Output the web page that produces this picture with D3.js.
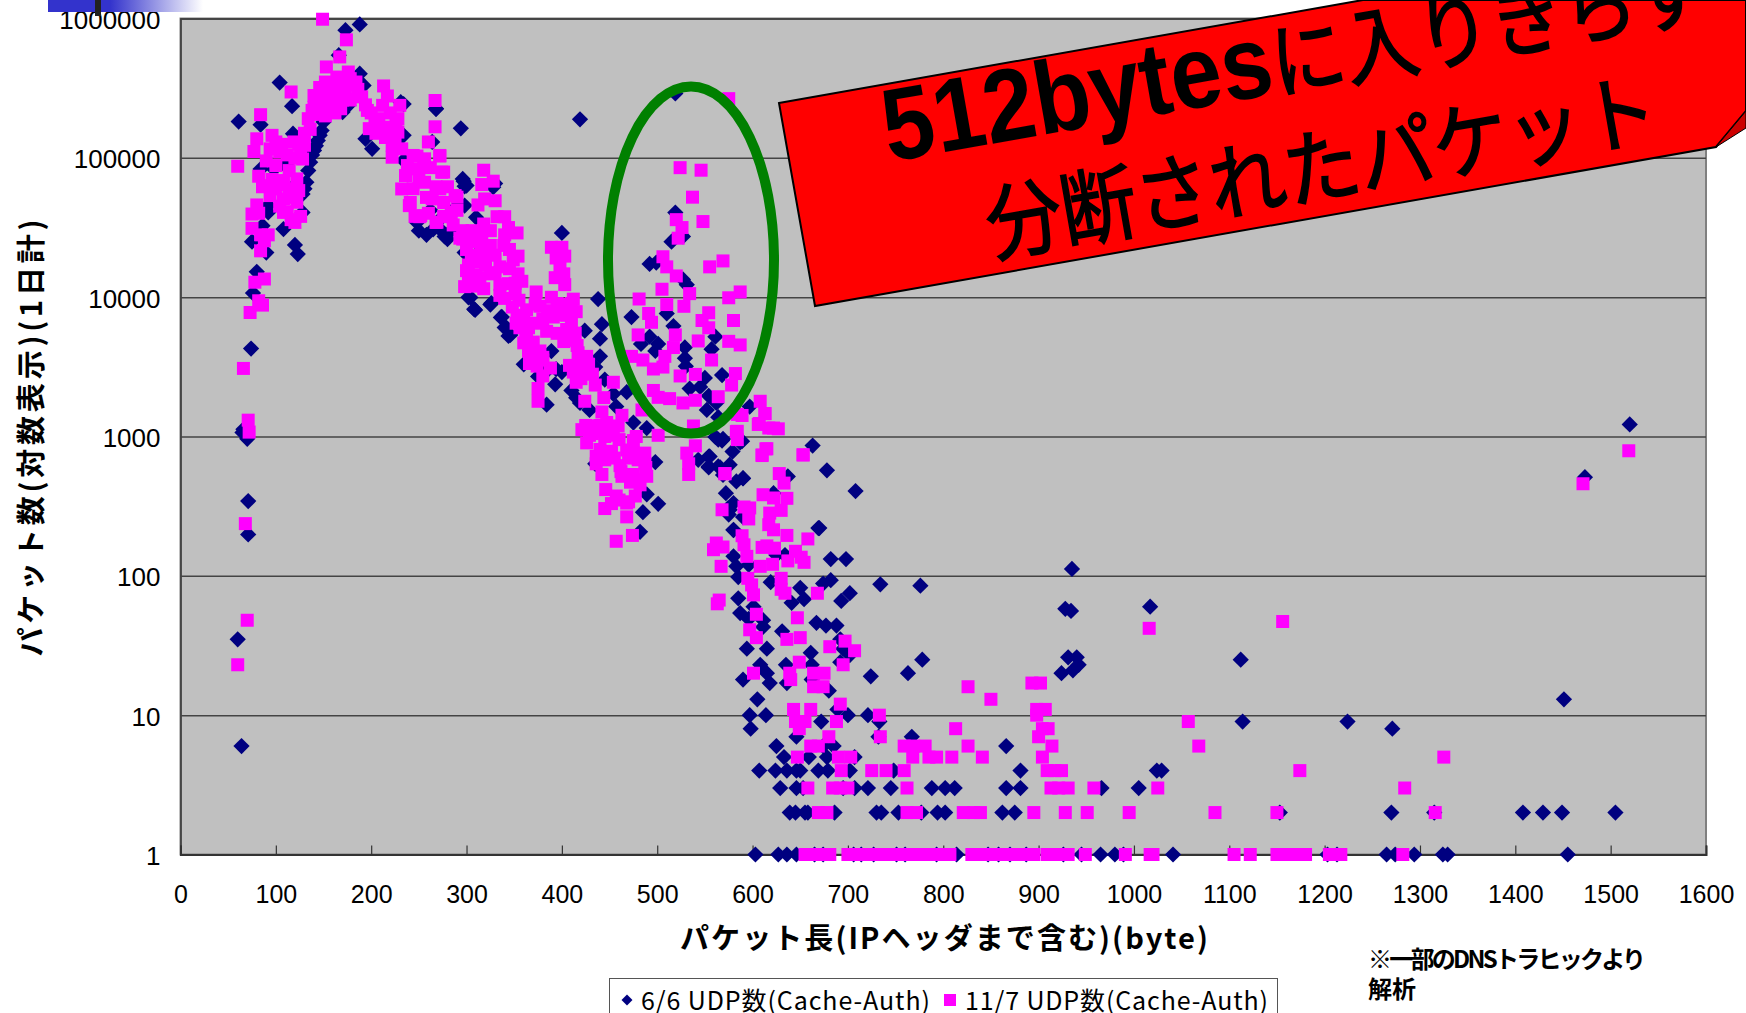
<!DOCTYPE html>
<html>
<head>
<meta charset="utf-8">
<script src="https://cdn.jsdelivr.net/npm/d3@7"></script>
<style>
html, body { margin: 0; padding: 0; background: #fff; overflow: hidden; }
text { font-family: "Liberation Sans", "Noto Sans CJK JP", sans-serif; fill: #000; }
.jp { font-family: "Noto Sans CJK JP", "Liberation Sans", sans-serif; }
</style>
</head>
<body>
<script>
var xTicks = [0, 100, 200, 300, 400, 500, 600, 700, 800, 900, 1000, 1100, 1200, 1300, 1400, 1500, 1600];
var yTicks = [1, 10, 100, 1000, 10000, 100000, 1000000];
var seriesNames = ["6/6 UDP数(Cache-Auth)", "11/7 UDP数(Cache-Auth)"];

// [packet length, packets per day]
var udp0606 = [
  [61,182000],[104,347000],[117,235000],[84,173000],[118,149000],[173,824000],[188,906000],[166,545000],[188,402000],[192,331000],
  [231,251000],[268,225000],[294,163000],[419,189000],[170,213000],[176,238000],[150,181000],[148,157000],[144,133000],[140,113000],
  [136,93000],[134,81000],[132,66800],[116,98000],[84,83000],[98,83000],[110,88000],[201,116000],[194,137000],[234,145000],
  [234,95800],[264,130000],[92,40600],[92,45400],[116,59800],[86,32600],[108,30800],[128,40600],[75,25000],[90,20900],
  [120,23700],[123,20400],[80,15200],[76,10700],[74,4280],[66,1125],[70,963],[296,70600],[300,63200],[328,61500],
  [272,30800],[248,34400],[310,37400],[298,45400],[280,26100],[298,20900],[304,9960],[308,8200],[326,9060],[336,7150],
  [340,6050],[344,5270],[65,1070],[71,344],[71,198],[60,35],[64,6],
  [128,55000],[130,60000],[138,105000],[142,122000],[146,145000],[152,200000],[300,28000],[306,26000],[312,24000],[290,45000],
  [262,42000],[270,35000],[284,30000],[250,30000],[258,28000],[360,3300],[375,2700],[385,3000],[400,2900],[415,1900],
  [268,225000],[234,243000],[232,143000],[297,68000],[330,65500],[298,62400],[400,28900],[519,290000],[519,40500],[527,27300],
  [515,25000],[492,17300],[499,17700],[527,13400],[531,12300],[438,9700],[510,7640],[473,7200],[442,6400],[424,5750],
  [440,5040],[492,5200],[517,6200],[561,5200],[483,4620],[501,4620],[529,4360],[557,4230],[498,4110],[529,3650],
  [440,3760],[435,3150],[530,3190],[568,2760],[550,2630],[394,3050],[389,4100],[393,2370],[410,2140],[445,2560],
  [454,2020],[468,2080],[534,2210],[545,2270],[554,1960],[419,1740],[429,1550],[457,1640],[552,1550],[562,1740],
  [597,1640],[564,1375],[475,1260],[489,1150],[561,993],[568,935],[587,907],[554,718],[554,600],[566,600],
  [590,502],[435,637],[498,656],[489,385],[501,329],[485,286],[482,207],[384,1690],[580,333],[574,304],
  [580,213],[669,220],[309,8100],[302,9980],[325,8850],[337,7210],[346,5360],[342,6030],[265,30700],[277,27300],
  [564,950],[569,960],[579,780],[589,925],[663,861],[678,572],[708,406],[555,720],[543,680],[554,610],
  [564,610],[576,628],[569,530],[583,476],[590,500],[637,517],[572,392],[622,392],[576,298],[575,275],
  [590,264],[580,214],[670,220],[580,138],[583,117],[596,120],[625,141],[634,141],[682,132],[698,132],
  [585,98],[619,90],[682,93],[674,88],[734,87],[776,85],[650,82],[702,75],[693,66],[585,69],
  [654,68],[641,64],[587,54],[601,60],[596,49],[611,48],[611,43],[631,40],[667,46],[677,44],
  [688,44],[692,35],[695,30],[702,27],[594,30],[615,30],[661,28],[635,23],[662,23],[692,24],
  [778,25],[763,20],[724,19],[608,23],[615,20],[590,18],[618,17],[636,17],[662,18],[680,15],
  [605,13],[597,10],[614,10],[598,8],[672,9],[700,10],[689,11],[721,10],[733,9],[646,7],
  [625,6],[674,6],[685,6],[732,7],[767,7],[633,5],[659,5],[678,5],[707,5],[866,6],
  [935,112],[928,58],[934,56],[1017,60],[931,26],[940,26],[942,23],[924,20],[936,21],
  [607,4],[624,4],[636,4],[646,4],[650,4],[669,4],[679,4],[702,4],[748,4],[881,4],[1024,4],[1029,4],
  [629,3],[646,3],[653,3],[695,3],[707,3],[721,3],[745,3],[788,3],[802,3],[812,3],[866,3],[881,3],[966,3],[1005,3],
  [639,2],[645,2],[655,2],[658,2],[686,2],[730,2],[735,2],[753,2],[777,2],[794,2],[802,2],[862,2],[875,2],
  [1153,2],[1270,2],[1315,2],[1408,2],[1429,2],[1449,2],[1505,2],
  [603,1],[627,1],[636,1],[646,1],[665,1],[674,1],[706,1],[714,1],[727,1],[751,1],[760,1],[793,1],[814,1],[847,1],[858,1],
  [870,1],[887,1],[926,1],[945,1],[965,1],[980,1],[989,1],[1041,1],[1203,1],[1213,1],[1265,1],[1274,1],[1294,1],[1324,1],[1329,1],[1455,1],
  [1112,25],[1114,9],[1224,9],[1271,8],[1451,13],[1473,510],[1520,1220]
];

var udp1107 = [
  [149,988000],[174,703000],[167,530000],[153,449000],[176,413000],[164,380000],[152,350000],[180,331000],[164,313000],[150,297000],
  [190,274000],[142,259000],[162,252000],[174,266000],[156,219000],[138,219000],[134,191000],[116,297000],[84,204000],[80,137000],
  [77,111000],[60,87000],[96,145000],[94,116000],[104,110000],[119,130000],[130,123000],[128,98000],[114,81000],[82,73800],
  [122,70600],[90,63200],[108,68700],[100,59800],[124,58200],[94,53600],[108,50700],[122,48000],[80,45900],[75,39500],
  [108,40600],[120,34400],[75,31200],[88,25400],[84,21500],[88,13500],[78,12800],[82,9420],[86,8770],[73,7760],
  [66,3080],[71,1310],[72,1075],[68,237],[70,48],[60,23],
  [140,230000],[146,260000],[150,240000],[144,205000],[158,330000],[160,290000],[168,340000],[172,300000],[178,370000],[184,350000],
  [186,310000],[170,260000],[156,270000],[146,320000],[140,280000],[152,200000],[162,210000],[168,225000],[178,260000],[194,240000],
  [200,210000],[204,185000],[210,160000],[220,210000],[226,175000],[215,140000],[205,150000],[225,140000],[130,150000],[124,125000],
  [136,160000],[126,105000],[112,105000],[106,125000],[100,130000],[120,100000],[90,95000],[100,88000],[86,62000],[96,70000],
  [104,64000],[114,60000],[118,52000],[104,45000],[112,41000],[126,38000],[116,36000],[82,40000],[84,28000],[92,28000],
  [238,88000],[250,72000],[262,85000],[268,62000],[244,60000],[258,52000],[280,62000],[290,42000],[246,38000],[260,40000],
  [276,38000],[286,33000],[296,30000],[300,22000],[308,25000],[306,30000],
  [305,20000],[315,22000],[330,20000],[345,22000],[340,28000],[325,30000],[312,28000],[320,17000],[330,15000],[345,16000],
  [310,14500],[300,15500],[308,12000],[318,11500],[344,12500],[340,9800],[355,9500],[348,8500],[360,7200],[352,6500],
  [372,6500],[385,8000],[395,9000],[410,9000],[372,8900],[362,5500],[370,3800],[374,3200],[388,3100],[360,4700],
  [395,5500],[398,7500],[410,6500],[402,4800],[416,4500],[428,3300],[412,2900],[420,2600],[432,2800],[380,3700],
  [425,1200],[438,1080],[450,1100],[445,1000],[460,950],[432,1050],[470,700],[480,680],[455,700],[445,680],
  [462,560],[472,470],[480,490],[452,330],[460,350],[470,340],[482,450],[488,600],[468,800],[478,1000],
  [440,1200],[426,900],[436,720],
  [213,328000],[217,278000],[196,219000],[212,238000],[230,238000],[208,191000],[228,191000],[198,162000],[216,166000],[228,153000],
  [222,123000],[232,116000],[222,101000],[244,104000],[256,98400],[272,104000],[236,74600],[248,83400],[274,78900],[232,59800],
  [256,66800],[272,59800],[240,45400],[252,38500],[268,34400],[284,40600],[264,50700],[288,53600],[296,26100],
  [267,258000],[267,167000],[260,130000],[248,103000],[272,103000],[255,86500],[276,79000],[318,81500],[328,68000],[316,64300],
  [319,50700],[330,49200],[312,45900],[290,52200],[276,47800],[241,47800],[251,37800],[269,34500],[283,37800],[332,37800],
  [340,37800],[318,33500],[344,31600],[353,28900],[293,26500],[316,26500],[325,23500],[339,23500],[302,17000],[311,18000],
  [321,20900],[335,16500],[349,18500],[354,19700],[354,14700],[302,12600],[298,11900],[314,13800],[325,14700],[335,12300],
  [351,12600],[358,13000],[335,10300],[351,10600],[373,10900],[389,22800],[400,22800],[394,19100],[403,19700],[398,16500],
  [393,13800],[402,14700],[403,12300],[389,9980],[412,9680],[363,8110],[377,8610],[398,8870],[415,7870],[353,7410],
  [380,6980],[391,7200],[405,7410],[356,6030],[365,6030],[384,5690],[405,5860],[414,5520],[363,5050],[370,4760],
  [408,4900],[365,4110],[377,4110],[417,3990],[426,3760],[366,3340],[380,3540],[408,3240],[419,3340],[422,2880],
  [380,2720],[375,2210],[375,1790],[415,2450],[435,2340],[454,2450],[444,1900],[424,1790],[442,1500],[463,1420],
  [484,1550],[421,1120],[433,1190],[447,1260],[459,1190],[429,1020],[454,1020],[475,935],[501,1020],[440,807],
  [452,783],[475,760],[487,760],[436,637],[461,618],[487,637],[442,534],[463,518],[475,534],[489,518],
  [446,416],[457,374],[477,374],[445,304],[468,333],[468,265],[457,177],[474,195],
  [524,85000],[546,81500],[537,52200],[548,34900],[575,266000],[520,36000],[526,31600],[522,26500],[506,19500],[569,18200],
  [555,16500],[510,16500],[520,14200],[505,11400],[534,10600],[587,10900],[575,9900],[481,9700],[510,8850],[528,8600],
  [491,7640],[554,7730],[580,6800],[547,6800],[494,6600],[554,6030],[480,5360],[519,5360],[543,4850],[575,4820],
  [587,4540],[517,4350],[508,3760],[473,3760],[485,3540],[557,3540],[496,3050],[506,3150],[582,2830],[524,2720],
  [540,2790],[578,2340],[496,2140],[501,1910],[513,1870],[527,1740],[540,1820],[564,1930],[589,1415],[608,1790],
  [613,1460],[538,1190],[606,1220],[622,1150],[583,1085],[540,857],[615,817],[610,738],[653,738],[531,760],
  [533,637],[533,534],[571,540],
  [584,1440],[613,1460],[607,1240],[617,1150],[627,1135],[584,1090],[584,950],[614,815],[610,730],[653,738],
  [571,542],[628,542],[633,463],[611,382],[622,362],[636,360],[568,298],[591,312],[597,307],[596,256],
  [618,282],[630,295],[617,233],[622,214],[636,195],[658,184],[589,194],[591,167],[562,172],[569,161],
  [559,154],[610,160],[615,164],[623,158],[645,150],[594,138],[651,136],[637,128],[654,125],[567,117],
  [608,117],[621,121],[595,96],[630,96],[599,86],[630,80],[601,73],[634,75],[668,75],[565,67],
  [563,63],[604,53],[647,50],[597,41],[604,36],[636,35],[650,36],[681,31],[697,34],[707,29],
  [695,23],[649,24],[601,20],[639,20],[640,18],[664,20],[675,20],[664,16],[674,16],[692,12],
  [643,11],[661,11],[733,10],[645,9],[655,9],[688,9],[649,8],[680,7],[734,7],[661,6],
  [669,6],[759,6],[769,6],[781,6],[826,6],[914,6],[813,8],[647,5],[690,5],[703,5],
  [768,5],[785,5],[793,5],[809,5],[841,5],[904,5],[693,4],[725,4],[740,4],[759,4],
  [909,4],[917,4],[924,4],[826,16],[850,13],[893,17],[902,17],[898,11],[907,11],[898,10],
  [904,8],[910,8],[900,7],[1016,42],
  [658,3],[684,3],[692,3],[700,3],[762,3],[913,3],[921,3],[931,3],[958,3],[1025,3],[1284,3],
  [669,2],[678,2],[762,2],[772,2],[821,2],[832,2],[839,2],[895,2],[928,2],[951,2],[995,2],[1085,2],[1150,2],[1316,2],
  [655,1],[662,1],[669,1],[676,1],[681,1],[700,1],[707,1],[714,1],[721,1],[728,1],[735,1],[742,1],[749,1],[756,1],[763,1],
  [770,1],[777,1],[784,1],[791,1],[798,1],[807,1],[830,1],[837,1],[844,1],[851,1],[858,1],[865,1],[872,1],[879,1],[884,1],
  [895,1],[909,1],[916,1],[924,1],[931,1],[949,1],[991,1],[1017,1],[1020,1],[1105,1],[1122,1],[1150,1],[1155,1],[1160,1],[1165,1],
  [1170,1],[1175,1],[1180,1],[1205,1],[1217,1],[1282,1],
  [1519,790],[1471,458],[1156,47],[1057,9],[1068,6],[1174,4],[1325,5]
];

var w = 1746;
var h = 1013;
var left = 180.5, right = 1706, top_ = 18.5, bottom = 854.5;

var svg = d3.select("body")
    .append("svg")
    .attr("width", w)
    .attr("height", h)
    .style("display", "block");

var xScale = d3.scaleLinear().domain([0, 1600]).range([left, right]);
var yScale = d3.scaleLog().domain([1, 1000000]).range([bottom, top_]);

// plot area
svg.append("rect")
    .attr("x", left)
    .attr("y", top_)
    .attr("width", right - left)
    .attr("height", bottom - top_)
    .attr("fill", "#c0c0c0")
    .attr("stroke", "#808080")
    .attr("stroke-width", 2);

var yAxis = d3.axisLeft(yScale)
    .tickValues(yTicks)
    .tickFormat(d3.format("d"))
    .tickSize(-(right - left))
    .tickPadding(20);

var gy = svg.append("g")
    .attr("transform", "translate(" + left + ",0)")
    .call(yAxis);
gy.selectAll(".tick line").attr("stroke", "#444").attr("stroke-width", 1.5);
gy.select(".domain").attr("stroke", "#333").attr("stroke-width", 1.5);
gy.selectAll("text").style("font-size", "26px").attr("fill", "#000").attr("dy", "0.38em");

var xAxis = d3.axisBottom(xScale)
    .tickValues(xTicks)
    .tickFormat(d3.format("d"))
    .tickSize(-9)
    .tickPadding(31);

var gx = svg.append("g")
    .attr("transform", "translate(0," + bottom + ")")
    .call(xAxis);
gx.selectAll(".tick line").attr("stroke", "#333").attr("stroke-width", 1.2);
gx.select(".domain").attr("stroke", "#333").attr("stroke-width", 2);
gx.selectAll("text").style("font-size", "25px").attr("fill", "#000");

// markers
svg.append("g").selectAll("path")
    .data(udp0606)
    .join("path")
    .attr("d", d3.symbol(d3.symbolSquare, 132))
    .attr("transform", function(d) { return "translate(" + xScale(d[0]) + "," + yScale(d[1]) + ") rotate(45)"; })
    .attr("fill", "#000080");

svg.append("g").selectAll("path")
    .data(udp1107)
    .join("path")
    .attr("d", d3.symbol(d3.symbolSquare, 169))
    .attr("transform", function(d) { return "translate(" + xScale(d[0]) + "," + yScale(d[1]) + ")"; })
    .attr("fill", "#ff00ff");

// axis titles
svg.append("text")
    .attr("class", "jp")
    .attr("transform", "translate(42,438) rotate(-90)")
    .attr("text-anchor", "middle")
    .attr("textLength", 437)
    .style("font-size", "29px")
    .style("font-weight", "bold")
    .text("パケット数(対数表示)(1日計)");

svg.append("text")
    .attr("class", "jp")
    .attr("x", 944)
    .attr("y", 949)
    .attr("text-anchor", "middle")
    .attr("textLength", 528)
    .style("font-size", "29px")
    .style("font-weight", "bold")
    .text("パケット長(IPヘッダまで含む)(byte)");

// note
svg.append("text")
    .attr("class", "jp")
    .attr("x", 1368)
    .attr("y", 968)
    .attr("textLength", 278)
    .style("font-size", "24px")
    .style("font-weight", "bold")
    .text("※一部のDNSトラヒックより");
svg.append("text")
    .attr("class", "jp")
    .attr("x", 1368)
    .attr("y", 998)
    .style("font-size", "24px")
    .style("font-weight", "bold")
    .text("解析");

// legend
svg.append("rect")
    .attr("x", 609.5)
    .attr("y", 978.5)
    .attr("width", 668)
    .attr("height", 60)
    .attr("fill", "#fff")
    .attr("stroke", "#555");
svg.append("path")
    .attr("d", d3.symbol(d3.symbolSquare, 60))
    .attr("transform", "translate(627,1000) rotate(45)")
    .attr("fill", "#000080");
svg.append("rect")
    .attr("x", 944)
    .attr("y", 994)
    .attr("width", 12)
    .attr("height", 12)
    .attr("fill", "#ff00ff");
svg.append("text")
    .attr("class", "jp")
    .attr("x", 641)
    .attr("y", 1010)
    .attr("textLength", 289)
    .style("font-size", "25px")
    .text(seriesNames[0]);
svg.append("text")
    .attr("class", "jp")
    .attr("x", 965)
    .attr("y", 1010)
    .attr("textLength", 303)
    .style("font-size", "25px")
    .text(seriesNames[1]);

// green circle around the fragmented packets
svg.append("ellipse")
    .attr("cx", 691)
    .attr("cy", 260)
    .attr("rx", 83)
    .attr("ry", 173.5)
    .attr("fill", "none")
    .attr("stroke", "#008000")
    .attr("stroke-width", 10);

// red banner
svg.append("polygon")
    .attr("points", "779,103 1363,0 1746,0 1746,111 1716,147 815,306")
    .attr("fill", "#ff0000")
    .attr("stroke", "#000")
    .attr("stroke-width", 2);
svg.append("polygon")
    .attr("points", "1746,111 1716,147 1746,128")
    .attr("fill", "#cc0000")
    .attr("stroke", "#000")
    .attr("stroke-width", 1);

var line1 = svg.append("text")
    .attr("transform", "translate(889,162) rotate(-10) scale(1,1.12)")
    .style("font-size", "92px");
line1.append("tspan")
    .style("font-weight", "bold")
    .text("512bytes");
line1.append("tspan")
    .attr("class", "jp")
    .style("font-size", "74px")
    .style("stroke", "#000")
    .style("stroke-width", 1.5)
    .text("に入りきらず");

svg.append("text")
    .attr("class", "jp")
    .attr("transform", "translate(992,256) rotate(-10) scale(1,1.1)")
    .attr("textLength", 680)
    .style("font-size", "76px")
    .style("stroke", "#000")
    .style("stroke-width", 1.5)
    .text("分断されたパケット");

// slide decoration cut off at the top
var grad = svg.append("defs").append("linearGradient").attr("id", "bar");
grad.append("stop").attr("offset", "40%").attr("stop-color", "#3333cc");
grad.append("stop").attr("offset", "100%").attr("stop-color", "#fff");
svg.append("rect")
    .attr("x", 48)
    .attr("y", 0)
    .attr("width", 155)
    .attr("height", 12)
    .attr("fill", "url(#bar)");
svg.append("rect")
    .attr("x", 95)
    .attr("y", 0)
    .attr("width", 6)
    .attr("height", 16)
    .attr("fill", "#222");
</script>
</body>
</html>
